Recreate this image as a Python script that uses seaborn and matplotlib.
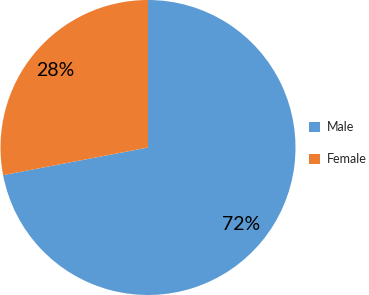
import matplotlib
matplotlib.use("Agg")
import matplotlib.pyplot as plt
import seaborn as sns
from matplotlib.patches import Patch

categories = ["Male", "Female"]
values = [72, 28]
colors = ["#5B9BD5", "#ED7D31"]

sns.set_theme(style="white")
plt.rcParams['font.family'] = ['Lato', 'DejaVu Sans']

fig = plt.figure(figsize=(3.69, 2.95), dpi=100)
ax = fig.add_axes([0.0, 0.0, 296/369, 1.0])
wedges, texts, autotexts = ax.pie(
    values, colors=sns.color_palette(colors), startangle=90, counterclock=False,
    autopct=lambda p: f"{p:.0f}%", pctdistance=0.82, radius=1.0,
    wedgeprops=dict(edgecolor="none", linewidth=0),
    textprops=dict(fontsize=14, color="black"))
ax.set_aspect("equal")
ax.set_xlim(-1.0, 1.0)
ax.set_ylim(-1.0, 1.0)

handles = [Patch(facecolor=c, edgecolor="none") for c in colors]
fig.legend(handles, categories, loc="center left", bbox_to_anchor=(309/369, 0.514),
           frameon=False, fontsize=9, handlelength=0.9, handleheight=0.9,
           handletextpad=0.5, labelspacing=1.6, borderpad=0, borderaxespad=0)

fig.savefig("out.png", dpi=100)
